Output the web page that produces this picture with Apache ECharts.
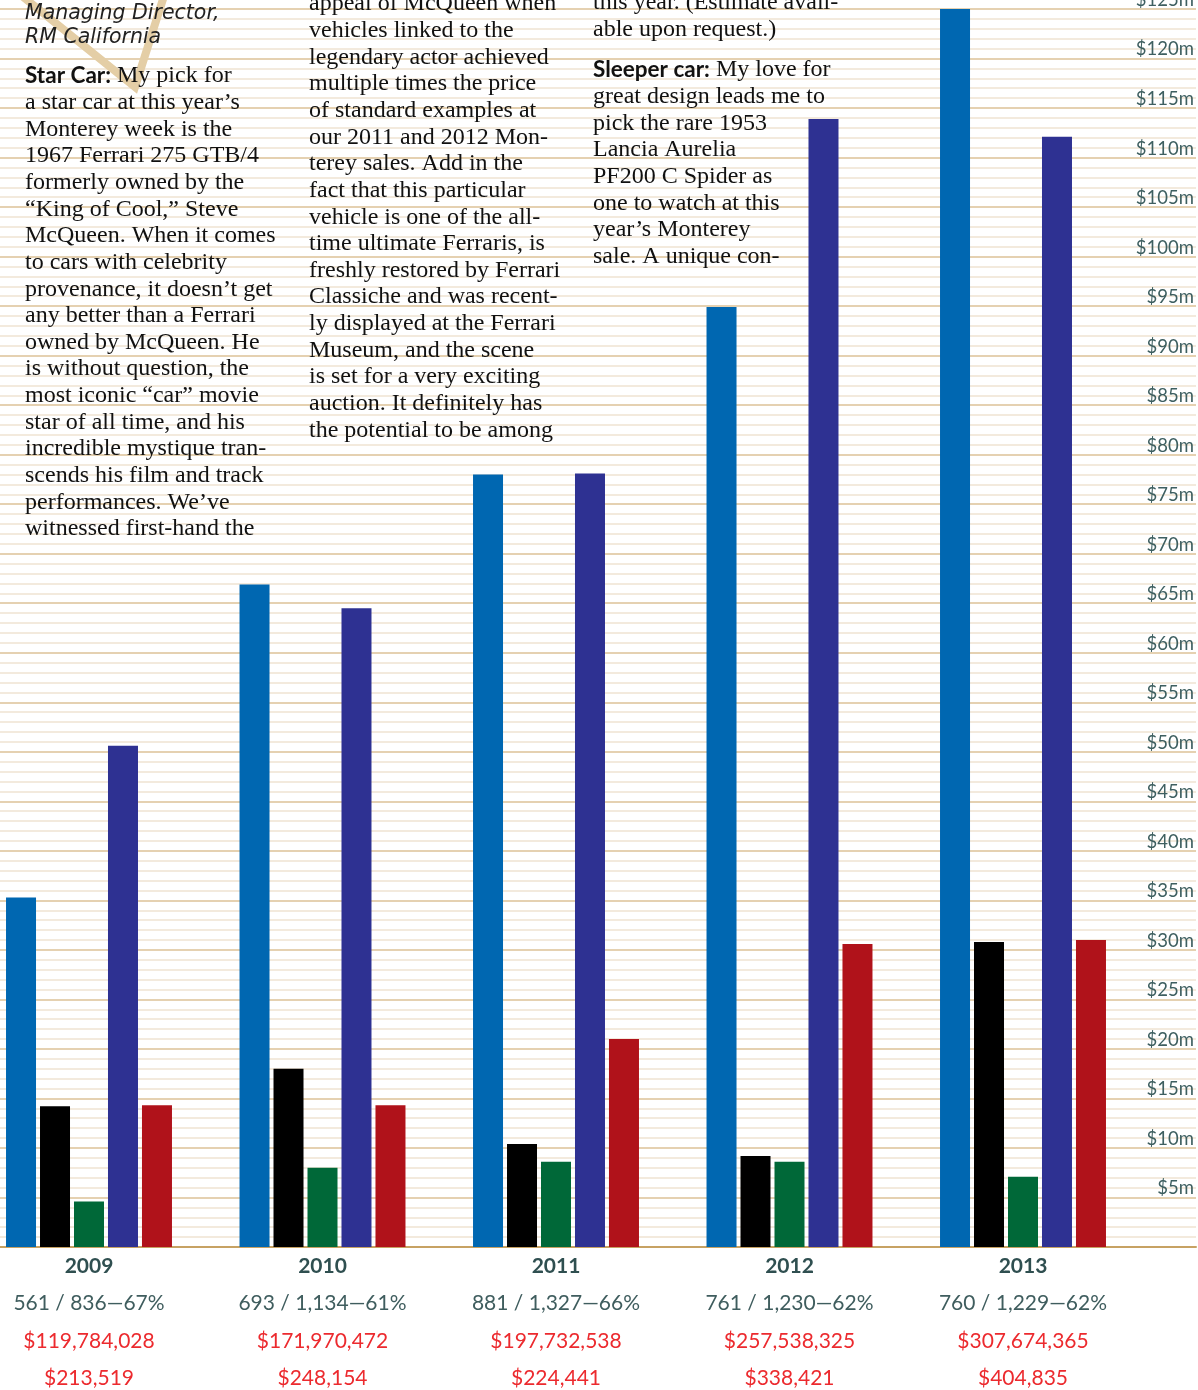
<!DOCTYPE html>
<html><head><meta charset="utf-8">
<style>html,body{margin:0;padding:0;background:#fff}#c{width:1198px;height:1390px}</style>
<script src="https://cdn.jsdelivr.net/npm/echarts@6/dist/echarts.min.js"></script>
</head><body><div id="c"></div><script>
// ---- data ----
const years = ['2009', '2010', '2011', '2012', '2013'];
const seriesBlue   = [35.3, 66.9, 78.0, 94.9, 125.0];
const seriesBlack  = [14.2, 18.0, 10.4, 9.2, 30.8];
const seriesGreen  = [4.6, 8.0, 8.6, 8.6, 7.1];
const seriesIndigo = [50.6, 64.5, 78.1, 113.9, 112.1];
const seriesRed    = [14.3, 14.3, 21.0, 30.6, 31.0];
const soldRatio = ['561 / 836\u201467%', '693 / 1,134\u201461%', '881 / 1,327\u201466%', '761 / 1,230\u201462%', '760 / 1,229\u201462%'];
const totals = ['$119,784,028', '$171,970,472', '$197,732,538', '$257,538,325', '$307,674,365'];
const averages = ['$213,519', '$248,154', '$224,441', '$338,421', '$404,835'];
const yMax = 125, yStep = 5;

const col1Head = ['Managing Director,', 'RM California'];
const col1Body = ['{b|Star Car:} My pick for', 'a star car at this year\u2019s', 'Monterey week is the', '1967 Ferrari 275 GTB/4',
  'formerly owned by the', '\u201cKing of Cool,\u201d Steve', 'McQueen. When it comes', 'to cars with celebrity',
  'provenance, it doesn\u2019t get', 'any better than a Ferrari', 'owned by McQueen. He', 'is without question, the',
  'most iconic \u201ccar\u201d movie', 'star of all time, and his', 'incredible mystique tran-', 'scends his film and track',
  'performances. We\u2019ve', 'witnessed first-hand the'];
const col2Body = ['appeal of McQueen when', 'vehicles linked to the', 'legendary actor achieved', 'multiple times the price',
  'of standard examples at', 'our 2011 and 2012 Mon-', 'terey sales. Add in the', 'fact that this particular',
  'vehicle is one of the all-', 'time ultimate Ferraris, is', 'freshly restored by Ferrari', 'Classiche and was recent-',
  'ly displayed at the Ferrari', 'Museum, and the scene', 'is set for a very exciting', 'auction. It definitely has',
  'the potential to be among'];
const col3Head = ['this year. (Estimate avail-', 'able upon request.)'];
const col3Body = ['{b|Sleeper car:} My love for', 'great design leads me to', 'pick the rare 1953', 'Lancia Aurelia',
  'PF200 C Spider as', 'one to watch at this', 'year\u2019s Monterey', 'sale. A unique con-'];

// ---- chart ----
const chart = echarts.init(document.getElementById('c'), null, {renderer: 'canvas'});
const serif = '"Liberation Serif", "DejaVu Serif", serif';
const sans = 'Lato, "Noto Sans", sans-serif';
const LH = 26.65;
const bodyStyle = (lines, x, y) => ({
  type: 'text', x: x, y: y, z: 20,
  style: {
    text: lines.join('\n'), fill: '#111', font: '24px ' + serif, lineHeight: LH, verticalAlign: 'top',
    rich: { b: { fontFamily: sans, fontWeight: 'bold', fontSize: 22.5, fill: '#111', lineHeight: LH } }
  }
});
const barColors = ['#0067b1', '#000000', '#006838', '#2e3192', '#b0121a'];
const barData = [seriesBlue, seriesBlack, seriesGreen, seriesIndigo, seriesRed];
const hiddenX = (g) => ({ type: 'value', gridIndex: g, min: 0, max: 1, show: false });

chart.setOption({
  animation: false,
  grid: [
    { left: 89, right: 175, top: 9, bottom: 143, containLabel: false, outerBoundsMode: 'none' },
    { left: 0, right: 2, top: 9, bottom: 143, containLabel: false, outerBoundsMode: 'none' },
    { left: 0, right: 2, top: 0, bottom: 152, containLabel: false, outerBoundsMode: 'none' }
  ],
  xAxis: [
    { type: 'category', gridIndex: 0, data: years, boundaryGap: false,
      axisLine: { show: false }, axisTick: { show: false }, splitLine: { show: false },
      axisLabel: {
        interval: 0, margin: 0,
        formatter: (v, i) => '{y|' + v + '}\n{r|' + soldRatio[i] + '}\n{m|' + totals[i] + '}\n{m|' + averages[i] + '}',
        rich: {
          y: { fontFamily: sans, fontWeight: 'bold', fontSize: 21, color: '#2f4f50', lineHeight: 37.5 },
          r: { fontFamily: sans, fontSize: 21, color: '#3f5d5e', lineHeight: 37.5 },
          m: { fontFamily: sans, fontSize: 21, color: '#ec2a2e', lineHeight: 37.5 }
        }
      }
    },
    { type: 'value', gridIndex: 1, min: 0, max: 1,
      axisLine: { show: true, lineStyle: { color: '#c7a263', width: 2 } },
      axisTick: { show: false }, axisLabel: { show: false }, splitLine: { show: false } },
    hiddenX(2)
  ],
  yAxis: [
    { type: 'value', gridIndex: 0, min: 0, max: yMax, interval: yStep, show: false, splitLine: { show: false } },
    { type: 'value', gridIndex: 1, min: 0, max: yMax, interval: yStep, position: 'right',
      axisLine: { show: false }, axisTick: { show: false }, axisLabel: { show: false },
      splitLine: { show: true, lineStyle: { color: '#dcc297', width: 1.5 } },
      minorTick: { show: false, splitNumber: 5 },
      minorSplitLine: { show: true, lineStyle: { color: '#efe4d2', width: 1.5 } }
    },
    { type: 'value', gridIndex: 2, min: 0, max: yMax, interval: yStep, position: 'right',
      axisLine: { show: false }, axisTick: { show: false }, splitLine: { show: false },
      axisLabel: { inside: true, margin: 2, fontFamily: sans, fontSize: 18.5, color: '#3e5f60',
        formatter: v => v === 0 ? '' : '$' + v + 'm' }
    }
  ],
  series: barData.map((d, k) => ({
    type: 'bar', xAxisIndex: 0, yAxisIndex: 0, data: d, barWidth: 30, barGap: '13.3%', z: 5, clip: false,
    itemStyle: { color: barColors[k] }
  })),
  graphic: [
    { type: 'polyline', z: 10, shape: { points: [[22, -4], [135, 87], [164, -4]] },
      style: { stroke: '#e4cea6', lineWidth: 8, fill: null, lineJoin: 'miter' } },
    { type: 'text', x: 25, y: 2, z: 20,
      style: { text: col1Head.join('\n'), fill: '#222', font: 'italic 20.5px "DejaVu Sans", sans-serif', lineHeight: 24, verticalAlign: 'top' } },
    bodyStyle(col1Body, 25, 62.7),
    bodyStyle(col2Body, 309, -9.3),
    bodyStyle(col3Head, 593, -10.3),
    bodyStyle(col3Body, 593, 56.7)
  ]
});
</script></body></html>
